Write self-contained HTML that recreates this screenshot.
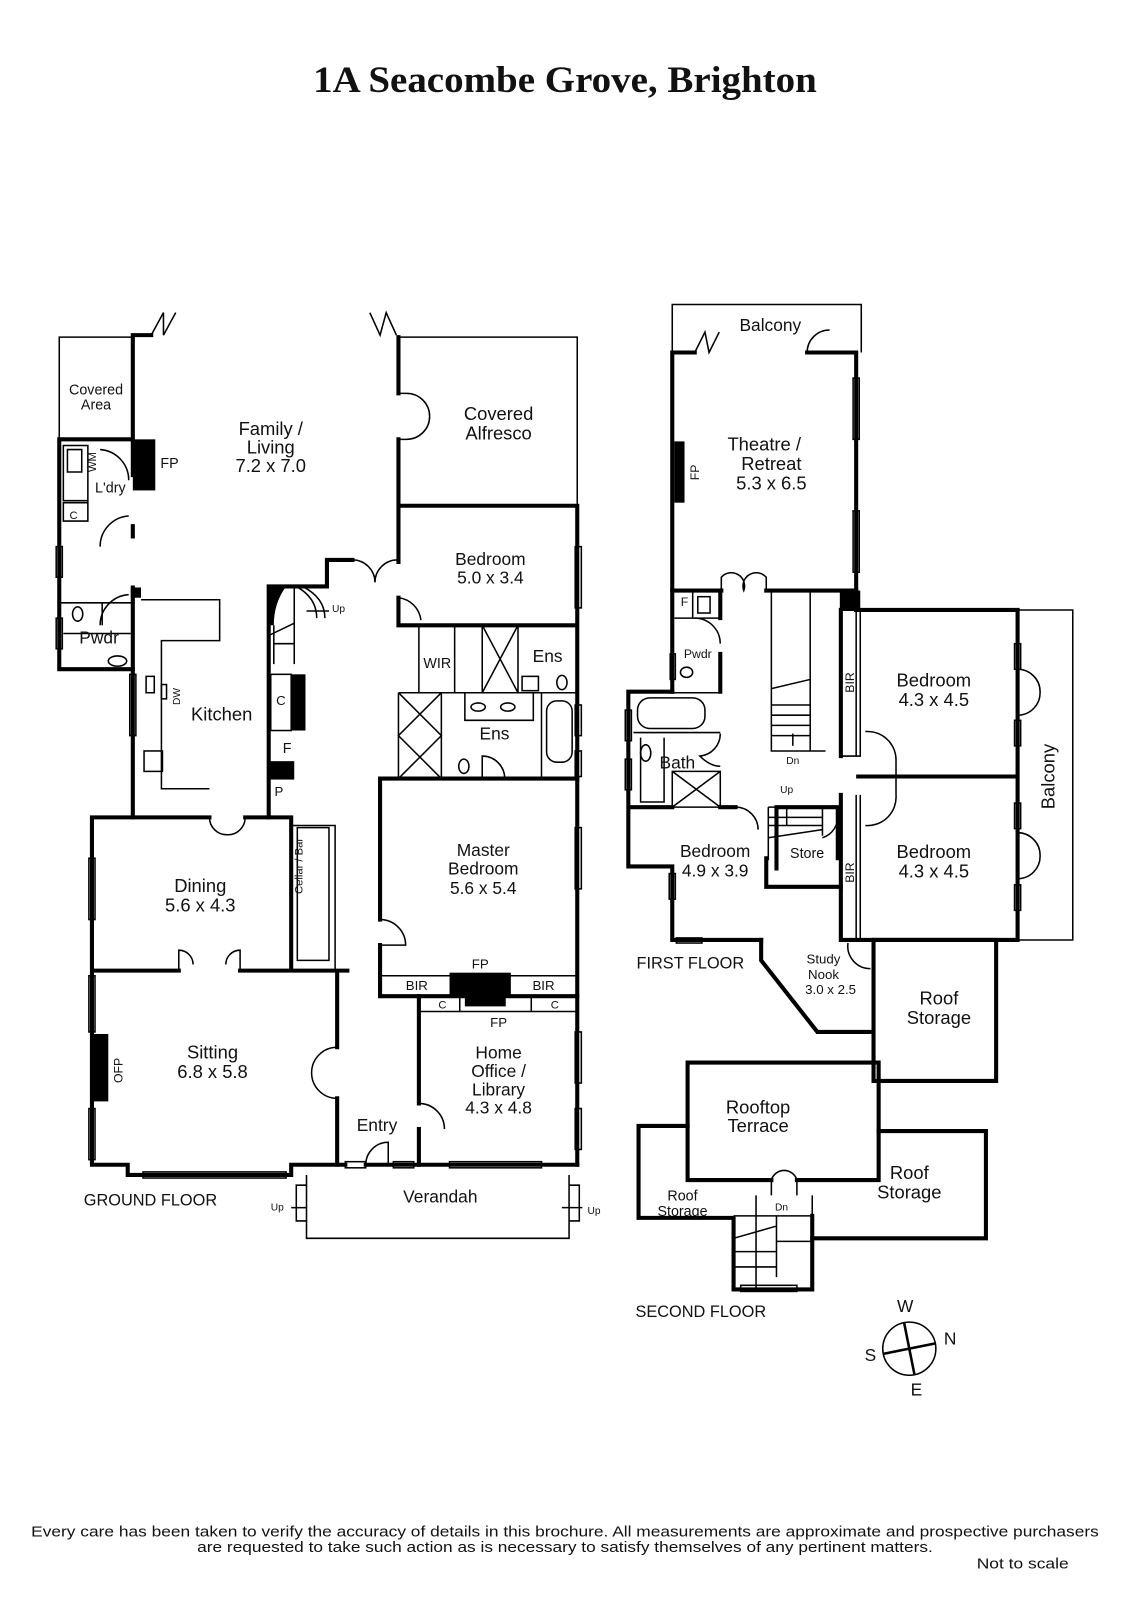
<!DOCTYPE html>
<html><head><meta charset="utf-8"><style>
html,body{margin:0;padding:0;background:#fff;}
svg{display:block}
text{font-family:"Liberation Sans",sans-serif;fill:#111;}
.w{stroke:#000;stroke-width:4;fill:none;stroke-linecap:square}
.t{stroke:#000;stroke-width:1.5;fill:none}
.b{fill:#000}
</style></head><body>
<svg width="1131" height="1600" viewBox="0 0 1107 1566" preserveAspectRatio="none" xmlns="http://www.w3.org/2000/svg">
<text x="553" y="90" text-anchor="middle" textLength="493" lengthAdjust="spacingAndGlyphs" style="font-family:'Liberation Serif',serif;font-weight:bold;font-size:36px">1A Seacombe Grove, Brighton</text>

<!-- ================= GROUND FLOOR ================= -->
<path class="t" d="M58 430 V330 H130"/>
<path class="w" d="M58 430 H130 M58 430 V655 H130"/>
<path class="t" d="M62 436 H86 V490 H62 Z M66 440 H80 V462 H66 Z M62 492 H86 V510 H62 Z M86 436 V510 M58 590 H130 M62 620 H128 M100 590 V612"/>
<path class="t" d="M98 440 A30 30 0 0 1 126 470 M98 535 A30 30 0 0 1 126 505 M98 612 A30 30 0 0 1 126 582"/>
<ellipse class="t" cx="115" cy="647" rx="9" ry="5"/>
<ellipse class="t" cx="76" cy="601" rx="5" ry="7"/>
<rect class="t" x="55" y="535" width="6" height="30"/><rect class="t" x="55" y="605" width="6" height="30"/>
<text x="94" y="386" text-anchor="middle" font-size="14">Covered</text>
<text x="94" y="401" text-anchor="middle" font-size="14">Area</text>
<text x="108" y="482" text-anchor="middle" font-size="14">L'dry</text>
<text x="94" y="462" font-size="11" transform="rotate(-90 94 462)">WM</text>
<text x="72" y="508" text-anchor="middle" font-size="11">C</text>
<text x="97" y="630" text-anchor="middle" font-size="17">Pwdr</text>
<path class="w" d="M130 328 H148 M130 328 V465 M130 515 V525 M130 575 V800"/>
<rect class="b" x="130" y="430" width="22" height="50"/>
<text x="157" y="458" font-size="14">FP</text>
<rect class="b" x="128" y="575" width="10" height="10"/>
<rect class="t" x="127" y="660" width="6" height="60"/>
<path class="t" d="M148 328 L160 306 L160 328 L172 306"/>
<path class="t" d="M362 306 L372 328 L378 306 L388 328"/>
<path class="t" d="M138 587 H215 V627 H158 V772 H205"/>
<rect class="t" x="141" y="735" width="18" height="20"/>
<rect class="t" x="143" y="662" width="8" height="16"/>
<rect class="t" x="158" y="670" width="5" height="14"/>
<text x="176" y="690" font-size="10" transform="rotate(-90 176 690)">DW</text>
<text x="217" y="705" text-anchor="middle" font-size="18">Kitchen</text>
<text x="265" y="426" text-anchor="middle" font-size="18">Family /</text>
<text x="265" y="444" text-anchor="middle" font-size="18">Living</text>
<text x="265" y="462" text-anchor="middle" font-size="18">7.2 x 7.0</text>
<path class="w" d="M263 574 V800 M263 574 H320 M320 574 V548 H345"/>
<path class="b" d="M263 574 H280 Q268 590 268 612 H263 Z"/>
<path class="t" d="M288 574 V650 M288 610 L263 622 M268 612 V650 M268 630 H288"/>
<path class="t" d="M290 574 Q310 585 310 605 M296 574 Q318 585 318 605"/>
<text x="325" y="599" font-size="10">Up</text>
<path class="t" d="M300 598 H322"/>
<rect class="b" x="285" y="660" width="14" height="55"/>
<rect class="t" x="265" y="660" width="20" height="55"/>
<text x="275" y="690" text-anchor="middle" font-size="13">C</text>
<text x="281" y="737" text-anchor="middle" font-size="14">F</text>
<rect class="b" x="263" y="745" width="25" height="18"/>
<text x="273" y="779" text-anchor="middle" font-size="13">P</text>
<path class="t" d="M345 548 A22 22 0 0 1 367 570 M389 548 A22 22 0 0 0 367 570 M390 585 A25 25 0 0 1 412 607"/>
<path class="t" d="M390 330 H565 V495"/>
<path class="w" d="M390 330 V385 M390 430 V550 M390 585 V612 H565 M390 495 H565 M565 495 V1140"/>
<path class="t" d="M390 385 H398 A22 22 0 0 1 398 430 H390"/>
<text x="488" y="411" text-anchor="middle" font-size="18">Covered</text>
<text x="488" y="430" text-anchor="middle" font-size="18">Alfresco</text>
<text x="480" y="553" text-anchor="middle" font-size="17">Bedroom</text>
<text x="480" y="571" text-anchor="middle" font-size="17">5.0 x 3.4</text>
<rect class="t" x="563" y="535" width="6" height="60"/>
<path class="t" d="M390 678 H565 M410 612 V678 M445 612 V678 M472 612 V678 M507 612 V678 M472 612 L507 678 M507 612 L472 678"/>
<rect class="t" x="511" y="662" width="16" height="14"/>
<ellipse class="t" cx="550" cy="668" rx="5" ry="7"/>
<text x="428" y="654" text-anchor="middle" font-size="14">WIR</text>
<text x="536" y="648" text-anchor="middle" font-size="17">Ens</text>
<path class="t" d="M390 678 V762 M432 678 V762 M390 678 L432 720 L390 762 M432 678 L390 720 L432 762 M455 678 V705 H522 V678 M530 678 V762"/>
<ellipse class="t" cx="468" cy="692" rx="7" ry="4"/><ellipse class="t" cx="497" cy="692" rx="7" ry="4"/>
<rect class="t" x="535" y="686" width="25" height="60" rx="10"/>
<ellipse class="t" cx="454" cy="750" rx="5" ry="7"/>
<text x="484" y="724" text-anchor="middle" font-size="17">Ens</text>
<path class="t" d="M472 762 V740 A22 22 0 0 1 494 762"/>
<rect class="t" x="563" y="690" width="6" height="30"/><rect class="t" x="563" y="735" width="6" height="25"/>
<path class="w" d="M372 762 H565 M372 762 V900 M372 925 V975 H565"/>
<path class="t" d="M372 900 A25 25 0 0 1 397 925 H372"/>
<text x="473" y="838" text-anchor="middle" font-size="17">Master</text>
<text x="473" y="856" text-anchor="middle" font-size="17">Bedroom</text>
<text x="473" y="875" text-anchor="middle" font-size="17">5.6 x 5.4</text>
<rect class="t" x="563" y="810" width="6" height="60"/>
<path class="t" d="M372 955 H565"/>
<rect class="b" x="440" y="952" width="60" height="23"/>
<text x="408" y="969" text-anchor="middle" font-size="13">BIR</text>
<text x="532" y="969" text-anchor="middle" font-size="13">BIR</text>
<text x="470" y="948" text-anchor="middle" font-size="13">FP</text>
<path class="w" d="M410 975 V1080 M410 1105 V1140 M410 1140 H565"/>
<path class="t" d="M410 990 H565 M450 975 V990 M520 975 V990"/>
<rect class="b" x="455" y="975" width="40" height="10"/>
<text x="433" y="987" text-anchor="middle" font-size="11">C</text>
<text x="543" y="987" text-anchor="middle" font-size="11">C</text>
<text x="488" y="1005" text-anchor="middle" font-size="13">FP</text>
<path class="t" d="M410 1080 A25 25 0 0 1 435 1105"/>
<text x="488" y="1036" text-anchor="middle" font-size="17">Home</text>
<text x="488" y="1054" text-anchor="middle" font-size="17">Office /</text>
<text x="488" y="1072" text-anchor="middle" font-size="17">Library</text>
<text x="488" y="1090" text-anchor="middle" font-size="17">4.3 x 4.8</text>
<rect class="t" x="563" y="1010" width="6" height="50"/><rect class="t" x="563" y="1085" width="6" height="40"/>
<rect class="t" x="440" y="1137" width="90" height="6"/>
<text x="369" y="1107" text-anchor="middle" font-size="17">Entry</text>
<path class="w" d="M330 1140 H338 M358 1140 H410"/>
<path class="t" d="M358 1140 A22 22 0 0 1 380 1118 V1140"/>
<rect class="t" x="338" y="1137" width="20" height="6"/><rect class="t" x="385" y="1137" width="20" height="6"/>
<path class="w" d="M130 800 H90 V1140 H125 V1150 H285 V1140 H330 V1075 M330 1025 V950 M205 800 H130 M240 800 H285 V950 M90 950 H175 M235 950 H340"/>
<path class="t" d="M205 800 A17 17 0 0 0 222 817 A17 17 0 0 0 240 800"/>
<path class="t" d="M175 950 V930 A14 14 0 0 1 189 944 M235 950 V930 A14 14 0 0 0 221 944"/>
<path class="t" d="M330 1025 A25 25 0 0 0 305 1050 A25 25 0 0 0 330 1075"/>
<path class="t" d="M285 808 H328 V950 M291 810 V940 H322 V810 Z"/>
<text x="296" y="875" font-size="11" transform="rotate(-90 296 875)">Cellar / Bar</text>
<text x="196" y="873" text-anchor="middle" font-size="18">Dining</text>
<text x="196" y="892" text-anchor="middle" font-size="18">5.6 x 4.3</text>
<text x="208" y="1036" text-anchor="middle" font-size="18">Sitting</text>
<text x="208" y="1055" text-anchor="middle" font-size="18">6.8 x 5.8</text>
<rect class="b" x="90" y="1012" width="16" height="66"/>
<text x="120" y="1060" font-size="12" transform="rotate(-90 120 1060)">OFP</text>
<rect class="t" x="87" y="840" width="6" height="60"/><rect class="t" x="87" y="955" width="6" height="55"/><rect class="t" x="87" y="1085" width="6" height="50"/>
<rect class="t" x="140" y="1147" width="140" height="6"/>
<text x="82" y="1180" font-size="16">GROUND FLOOR</text>
<path class="t" d="M300 1150 V1212 H557 V1150 M290 1160 H300 V1195 H290 Z M557 1160 H567 V1195 H557 Z"/>
<text x="431" y="1177" text-anchor="middle" font-size="17">Verandah</text>
<text x="265" y="1185" font-size="10">Up</text><path class="t" d="M285 1182 H300"/>
<text x="575" y="1188" font-size="10">Up</text><path class="t" d="M550 1182 H570"/>

<!-- ================= FIRST FLOOR ================= -->
<path class="t" d="M658 345 V298 H843 V345"/>
<path class="w" d="M658 345 H680 M790 345 H838 M658 345 V677 M838 345 V595"/>
<path class="t" d="M680 345 L690 325 L694 345 L704 325 M790 345 A22 22 0 0 1 812 323"/>
<text x="754" y="324" text-anchor="middle" font-size="17">Balcony</text>
<rect class="b" x="660" y="432" width="10" height="60"/>
<text x="684" y="470" font-size="12" transform="rotate(-90 684 470)">FP</text>
<rect class="t" x="835" y="370" width="6" height="60"/><rect class="t" x="835" y="500" width="6" height="60"/>
<text x="748" y="441" text-anchor="middle" font-size="18">Theatre /</text>
<text x="755" y="460" text-anchor="middle" font-size="18">Retreat</text>
<text x="755" y="479" text-anchor="middle" font-size="18">5.3 x 6.5</text>
<path class="w" d="M658 578 H706 M750 578 H838 M705 578 V605 M705 640 V677"/>
<path class="t" d="M706 578 V565 A13 13 0 0 1 728 578 A13 13 0 0 1 750 565 V578"/>
<path class="t" d="M660 578 H705 M660 605 H705 M678 578 V605"/>
<text x="670" y="593" text-anchor="middle" font-size="12">F</text><rect class="t" x="683" y="584" width="12" height="16"/>
<path class="t" d="M680 605 A25 25 0 0 1 705 630"/>
<text x="683" y="644" text-anchor="middle" font-size="12">Pwdr</text>
<ellipse class="t" cx="672" cy="658" rx="6" ry="5"/>
<rect class="t" x="656" y="640" width="5" height="25"/>
<path class="t" d="M755 578 V735 H808 M793 578 V735 M755 674 L793 665 M755 690 H793 M755 700 H793 M755 710 H793 M755 720 H793"/>
<path class="t" d="M776 730 V718"/><text x="776" y="748" text-anchor="middle" font-size="10">Dn</text>
<rect class="b" x="822" y="578" width="20" height="20"/>
<path class="w" d="M838 597 H996 V920 H823 V778 M823 597 V740 M840 760 H996"/>
<path class="t" d="M823 597 H842 V740 H823 M842 778 V920 M838 597 V740 M838 778 V920"/>
<text x="836" y="678" font-size="12" transform="rotate(-90 836 678)">BIR</text>
<text x="836" y="864" font-size="12" transform="rotate(-90 836 864)">BIR</text>
<path class="t" d="M847 716 A28 28 0 0 1 877 745 M847 808 A28 28 0 0 0 877 778 M877 745 V778"/>
<text x="914" y="672" text-anchor="middle" font-size="18">Bedroom</text>
<text x="914" y="691" text-anchor="middle" font-size="18">4.3 x 4.5</text>
<text x="914" y="840" text-anchor="middle" font-size="18">Bedroom</text>
<text x="914" y="859" text-anchor="middle" font-size="18">4.3 x 4.5</text>
<path class="t" d="M996 597 H1050 V920 H996"/>
<path class="t" d="M996 655 A22 22 0 0 1 1018 677 A22 22 0 0 1 996 700 M996 815 A22 22 0 0 1 1018 837 A22 22 0 0 1 996 860"/>
<rect class="t" x="993" y="630" width="6" height="25"/><rect class="t" x="993" y="705" width="6" height="25"/><rect class="t" x="993" y="786" width="6" height="25"/><rect class="t" x="993" y="866" width="6" height="25"/>
<text x="1032" y="760" text-anchor="middle" font-size="18" transform="rotate(-90 1032 760)">Balcony</text>
<path class="w" d="M658 677 H615 V790 H658 M615 790 V848 H658 V920 H745"/>
<path class="t" d="M620 678 H705 M620 717 H705 M627 722 V785 H650 V722 M658 755 H705 V790 H658 Z M658 755 L705 790 M705 755 L658 790"/>
<rect class="t" x="624" y="683" width="66" height="30" rx="12"/>
<ellipse class="t" cx="632" cy="737" rx="5" ry="8"/>
<path class="t" d="M705 718 A22 22 0 0 1 685 740 Q695 750 705 750"/>
<rect class="t" x="612" y="695" width="6" height="30"/><rect class="t" x="612" y="743" width="6" height="30"/>
<text x="663" y="752" text-anchor="middle" font-size="17">Bath</text>
<path class="w" d="M705 790 H720 M760 790 V850 M820 790 V840 M760 790 H820"/>
<path class="t" d="M720 790 A22 22 0 0 1 742 812 M752 790 V842 M752 790 H805 V818 M752 820 L805 812 M752 800 H805 M752 808 H805 M770 790 V808"/>
<path class="t" d="M805 820 A22 22 0 0 0 820 797"/>
<text x="770" y="776" text-anchor="middle" font-size="10">Up</text>
<text x="790" y="840" text-anchor="middle" font-size="14">Store</text>
<path class="w" d="M750 840 V868 H823"/>
<text x="700" y="839" text-anchor="middle" font-size="17">Bedroom</text>
<text x="700" y="858" text-anchor="middle" font-size="17">4.9 x 3.9</text>
<rect class="t" x="655" y="855" width="6" height="25"/><rect class="t" x="662" y="918" width="25" height="5"/>
<text x="623" y="948" font-size="16">FIRST FLOOR</text>
<path class="w" d="M745 920 V940 L800 1010 H855 M855 920 V1058 H975 V920 H855"/>
<path class="t" d="M830 923 A22 22 0 0 0 852 948"/>
<text x="806" y="943" text-anchor="middle" font-size="13">Study</text>
<text x="806" y="958" text-anchor="middle" font-size="13">Nook</text>
<text x="813" y="973" text-anchor="middle" font-size="13">3.0 x 2.5</text>
<text x="919" y="983" text-anchor="middle" font-size="18">Roof</text>
<text x="919" y="1002" text-anchor="middle" font-size="18">Storage</text>

<!-- ================= SECOND FLOOR ================= -->
<path class="w" d="M673 1155 V1040 H860 V1155 H780 M755 1155 H673"/>
<path class="w" d="M673 1102 H625 V1192 H718 V1262 H795 V1212 H965 V1107 H860"/>
<path class="w" d="M795 1190 V1212"/>
<path class="t" d="M755 1155 A13 13 0 0 1 780 1155 M755 1155 V1170 M780 1155 V1170 M740 1190 V1170 M795 1190 V1170"/>
<path class="t" d="M718 1190 H795 M740 1190 V1262 M718 1212 L760 1200 M718 1225 H760 M718 1240 H760 M760 1190 V1250 M760 1215 H795"/>
<rect class="t" x="725" y="1258" width="55" height="6"/>
<text x="765" y="1185" text-anchor="middle" font-size="10">Dn</text>
<text x="742" y="1090" text-anchor="middle" font-size="18">Rooftop</text>
<text x="742" y="1108" text-anchor="middle" font-size="18">Terrace</text>
<text x="668" y="1175" text-anchor="middle" font-size="14">Roof</text>
<text x="668" y="1190" text-anchor="middle" font-size="14">Storage</text>
<text x="890" y="1154" text-anchor="middle" font-size="18">Roof</text>
<text x="890" y="1173" text-anchor="middle" font-size="18">Storage</text>
<text x="622" y="1289" font-size="16">SECOND FLOOR</text>

<circle class="t" cx="890" cy="1320" r="26" stroke-width="2"/>
<path d="M865 1325 L915 1315" stroke="#000" stroke-width="2.5"/>
<path d="M885 1295 L895 1345" stroke="#000" stroke-width="2.5"/>
<text x="886" y="1284" text-anchor="middle" font-size="17">W</text>
<text x="930" y="1316" text-anchor="middle" font-size="17">N</text>
<text x="852" y="1332" text-anchor="middle" font-size="17">S</text>
<text x="897" y="1366" text-anchor="middle" font-size="17">E</text>

<text x="553" y="1504" text-anchor="middle" font-size="14.5" textLength="1045" lengthAdjust="spacingAndGlyphs">Every care has been taken to verify the accuracy of details in this brochure.  All measurements are approximate and prospective purchasers</text>
<text x="553" y="1519" text-anchor="middle" font-size="14.5" textLength="720" lengthAdjust="spacingAndGlyphs">are requested to take such action as is necessary to satisfy themselves of any pertinent matters.</text>
<text x="1001" y="1535" text-anchor="middle" font-size="14.5" textLength="90" lengthAdjust="spacingAndGlyphs">Not to scale</text>
</svg>
</body></html>
